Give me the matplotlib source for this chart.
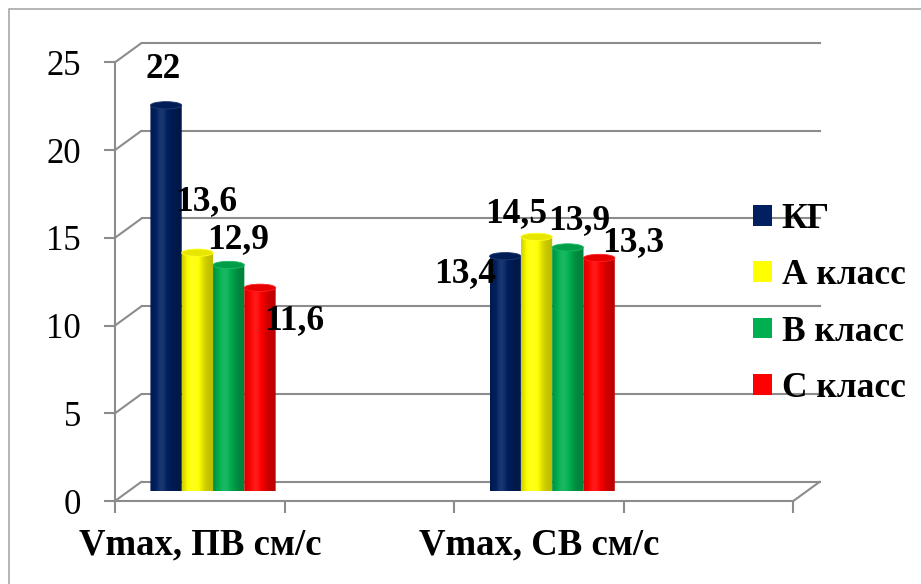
import numpy as np
import matplotlib
matplotlib.use("Agg")
import matplotlib.pyplot as plt
from matplotlib.patches import Ellipse, Rectangle, PathPatch, Patch, ConnectionPatch
from matplotlib.path import Path
import matplotlib.colors as mcolors

# ---- data -------------------------------------------------------------
categories = ["Vmax, ПВ см/с", "Vmax, СВ см/с"]
category_slots = [0, 2]          # the category axis has four slots, two of them empty
n_slots = 4
series_names = ["КГ", "А класс", "В класс", "С класс"]
kg = [22, 13.4]
a_class = [13.6, 14.5]
b_class = [12.9, 13.9]
c_class = [11.6, 13.3]
series_values = [kg, a_class, b_class, c_class]
series_colors = ["#002060", "#FFFF00", "#00B050", "#FF0000"]
y_ticks = [0, 5, 10, 15, 20, 25]
y_max = 25

# where each value label sits relative to its bar top (pixels, x right / y up)
label_offsets = [
    [(-3, 27), (-40, -25.7)],
    [(9, 42.6), (-20.5, 15.2)],
    [(9.5, 16.5), (11.5, 18)],
    [(34, -41.7), (34.5, 6.4)],
]

# ---- figure / 3-D box geometry ----------------------------------------
W, H, DPI = 921, 584, 100
plt.rcParams["font.family"] = ["Liberation Serif", "DejaVu Serif"]
fig = plt.figure(figsize=(W / DPI, H / DPI), dpi=DPI)
fig.patch.set_facecolor("white")

FL, FR, FT, FB = 115, 793.3, 62.3, 501     # front plane of the box
DX, DY = 26.5, 19.3                        # depth shift of the back wall
GRID = "#8c8c8c"
GRID_LW = 1.5


def plane_rect(depth):
    l, r = FL + depth * DX, FR + depth * DX
    t, b = FT - depth * DY, FB - depth * DY
    return [l / W, 1 - b / H, (r - l) / W, (b - t) / H]


# outer chart border
fig.patches.append(Rectangle((9 / W, -0.5), 1.5, 1.5 - 9 / H, transform=fig.transFigure,
                             fill=False, edgecolor="#a0a0a0", lw=1.1))

ax_back = fig.add_axes(plane_rect(1.0), zorder=0)
ax_front = fig.add_axes(plane_rect(0.0), zorder=1)
ax_mid = fig.add_axes(plane_rect(0.5), zorder=2)

for ax in (ax_back, ax_front, ax_mid):
    ax.set_xlim(0, n_slots)
    ax.set_ylim(0, y_max)
    ax.patch.set_alpha(0)
    ax.set_autoscale_on(False)

# back wall grid
ax_back.set_axis_off()
for yv in y_ticks:
    ax_back.axhline(yv, color=GRID, lw=GRID_LW, clip_on=False)

# side wall diagonals and floor edge
for yv in y_ticks:
    fig.add_artist(ConnectionPatch(xyA=(0, yv), coordsA=ax_front.transData,
                                   xyB=(0, yv), coordsB=ax_back.transData,
                                   color=GRID, lw=GRID_LW, zorder=0.5))
fig.add_artist(ConnectionPatch(xyA=(n_slots, 0), coordsA=ax_front.transData,
                               xyB=(n_slots, 0), coordsB=ax_back.transData,
                               color=GRID, lw=GRID_LW, zorder=0.5))

# front axes: value axis and category axis
for side in ("top", "right"):
    ax_front.spines[side].set_visible(False)
for side in ("left", "bottom"):
    ax_front.spines[side].set_color(GRID)
    ax_front.spines[side].set_linewidth(GRID_LW)
ax_front.set_yticks(y_ticks)
ax_front.set_yticklabels([str(v) for v in y_ticks])
ax_front.tick_params(axis="y", direction="out", length=8, width=GRID_LW, color=GRID,
                     labelsize=25, pad=16.5)
ax_front.set_xticks(range(n_slots + 1))
ax_front.set_xticklabels([])
ax_front.set_xticks([s + 0.5 for s in category_slots], labels=categories, minor=True)
ax_front.tick_params(axis="x", which="major", direction="out", length=8.6,
                     width=GRID_LW, color=GRID)
ax_front.tick_params(axis="x", which="minor", length=0, labelsize=26.5, pad=19)
for lab in ax_front.get_xticklabels(minor=True):
    lab.set_fontweight("bold")

# ---- cylinders ----------------------------------------------------------
bar_w = 0.1846
px_per_unit = (FB - FT) / y_max
eh = 3.65 / px_per_unit      # half height of the cylinder end ellipses (data units)


def shade(color, s):
    rgb = np.array(mcolors.to_rgb(color))
    if s <= 1:
        return rgb * s
    return rgb + (1 - rgb) * (s - 1)


t = np.linspace(0, 1, 96)
profile = 0.74 + 0.36 * np.exp(-((t - 0.36) / 0.30) ** 2)

theta = np.linspace(0, np.pi, 40)
for si, (vals, col) in enumerate(zip(series_values, series_colors)):
    grad = np.array([[shade(col, s) for s in profile]])
    for ci, v in enumerate(vals):
        xc = category_slots[ci] + 0.5 + (si - 1.5) * bar_w
        x0, x1 = xc - bar_w / 2, xc + bar_w / 2
        arc = np.column_stack([xc - bar_w / 2 * np.cos(theta), -eh * np.sin(theta)])
        verts = np.vstack([[x0, v], [x0, 0], arc, [x1, v], [x0, v]])
        codes = [Path.MOVETO] + [Path.LINETO] * (len(verts) - 2) + [Path.CLOSEPOLY]
        body = PathPatch(Path(verts, codes), transform=ax_mid.transData,
                         facecolor="none", edgecolor="none")
        ax_mid.add_patch(body)
        im = ax_mid.imshow(grad, extent=(x0, x1, -eh, v), aspect="auto",
                           interpolation="bilinear", zorder=2 + si * 0.01)
        im.set_clip_path(body)
        ax_mid.add_patch(Ellipse((xc, v), bar_w, 2 * eh, facecolor=shade(col, 0.9),
                                 edgecolor=shade(col, 1.12), lw=0.6,
                                 zorder=2.005 + si * 0.01))
        dx, dy = label_offsets[si][ci]
        ax_mid.annotate(f"{v:g}".replace(".", ","), xy=(xc, v), xytext=(dx, dy),
                        textcoords="offset pixels", ha="center", va="baseline",
                        fontsize=25.5, fontweight="bold", color="black", zorder=5,
                        annotation_clip=False)

ax_mid.set_xlim(0, n_slots)
ax_mid.set_ylim(0, y_max)
ax_mid.set_axis_off()

# ---- legend -------------------------------------------------------------
handles = [Patch(facecolor=c, edgecolor="none", label=n)
           for n, c in zip(series_names, series_colors)]
ax_mid.legend(handles=handles, loc="center left",
              bbox_to_anchor=(753.3 / W, 1 - 304 / H), bbox_transform=fig.transFigure,
              frameon=False, prop=dict(family="Liberation Serif", weight="bold", size=25.5),
              handlelength=0.52, handleheight=0.52, handletextpad=0.28,
              labelspacing=0.66, borderpad=0, borderaxespad=0)

fig.savefig("out.png", dpi=DPI, facecolor="white")
